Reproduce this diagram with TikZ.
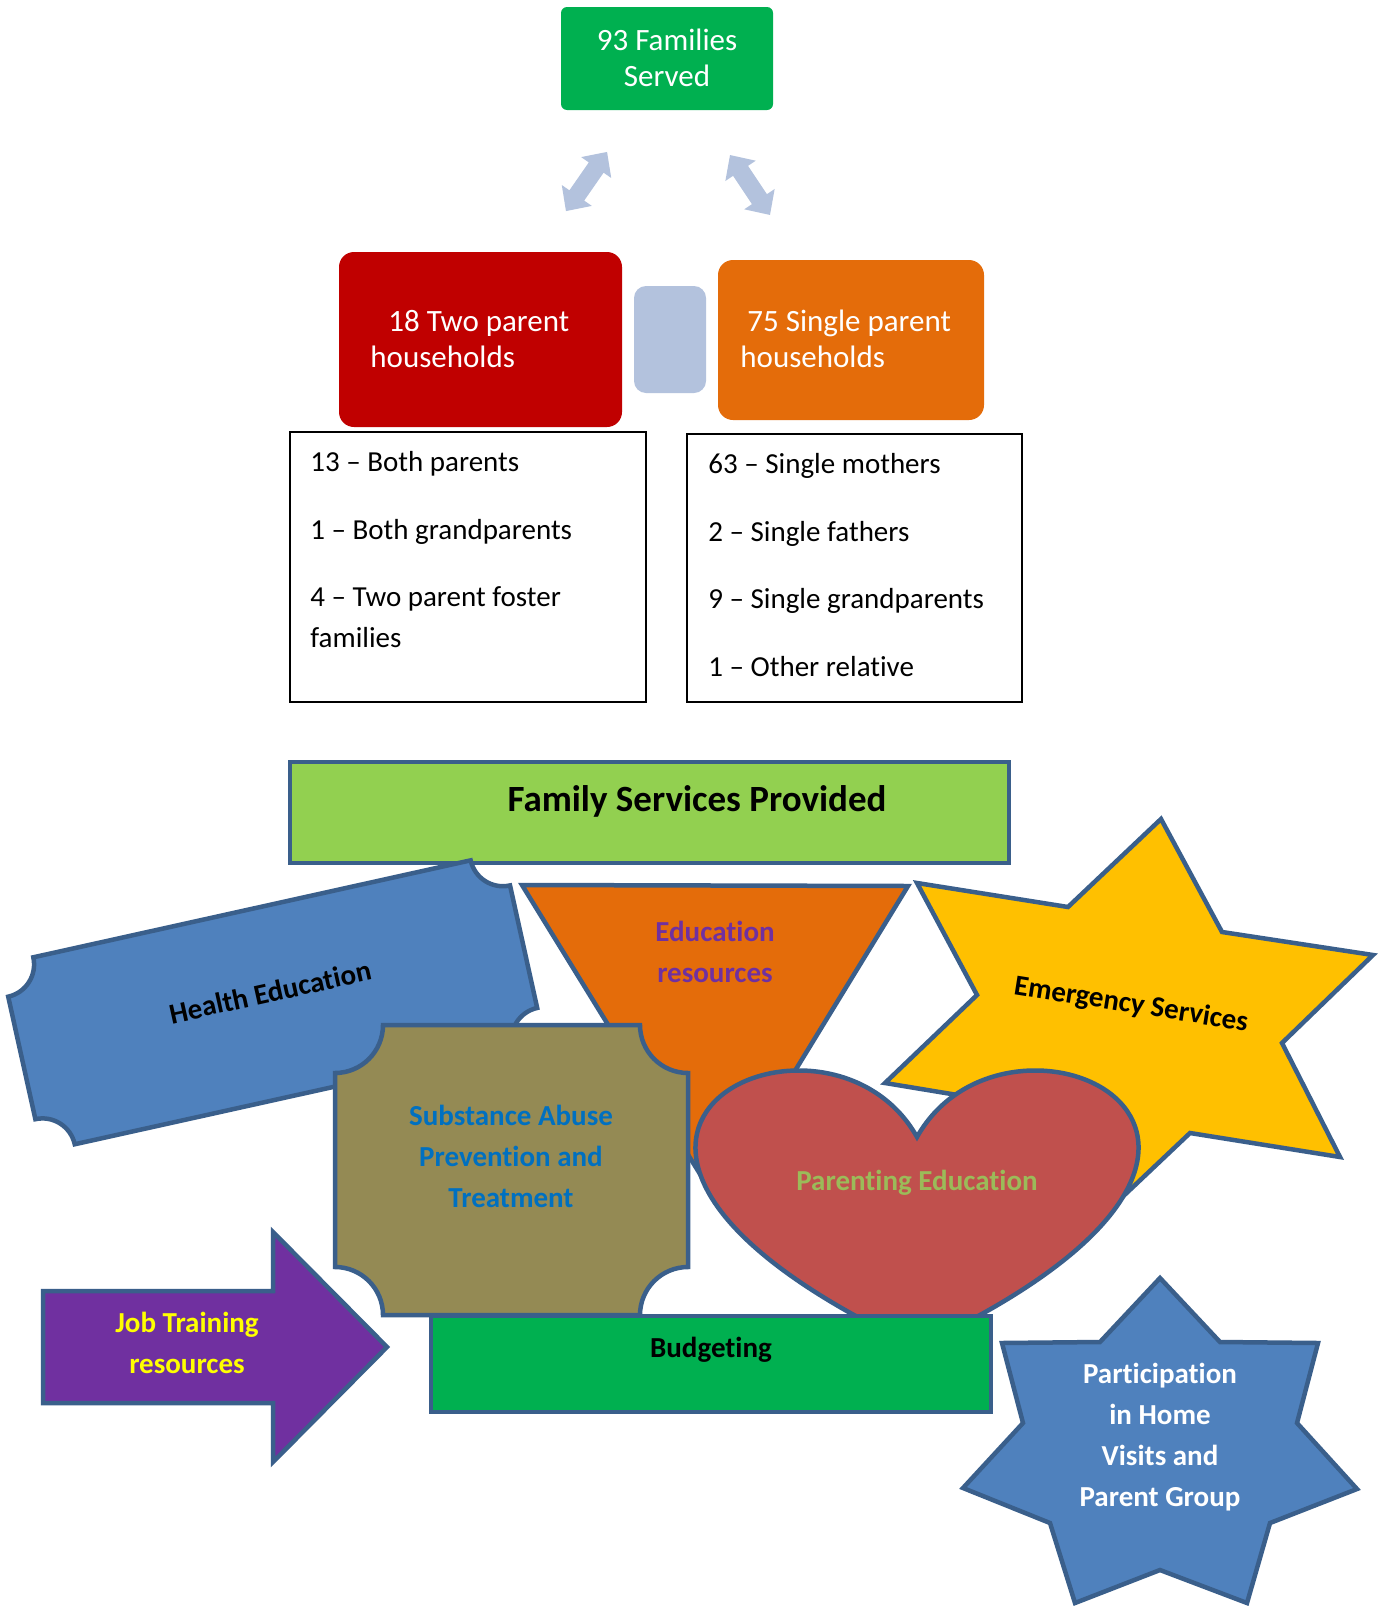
\documentclass[tikz,border=0pt]{standalone}
\usepackage{fontspec}
\setmainfont{Carlito}[Ligatures=NoCommon]
\definecolor{cgreen}{HTML}{00B050}
\definecolor{cred}{HTML}{C00000}
\definecolor{corange}{HTML}{E46C0A}
\definecolor{cconn}{HTML}{B3C2DD}
\definecolor{cfam}{HTML}{92D050}
\definecolor{outl}{HTML}{3A5F8B}
\definecolor{cblue}{HTML}{4F81BD}
\definecolor{colive}{HTML}{948A54}
\definecolor{cstar}{HTML}{FFC000}
\definecolor{cheart}{HTML}{C0504D}
\definecolor{cpurple}{HTML}{7030A0}
\definecolor{ctblue}{HTML}{0070C0}
\definecolor{ctgreen}{HTML}{9BBB59}
\definecolor{cyellow}{HTML}{FFFF00}
\tikzset{
  shapeline/.style={draw=outl, line width=2.25pt},
  lbl/.style={font=\fontsize{14.5pt}{20.5pt}\selectfont\bfseries, align=center, inner sep=0pt},
  toptxt/.style={font=\fontsize{15.5pt}{18pt}\selectfont, text=white, inner sep=0pt},
  listtxt/.style={font=\fontsize{14.5pt}{20.5pt}\selectfont, anchor=west, inner sep=0pt, text height=0.7em, text depth=0.2em},
  blockarrow/.style={fill=cconn},
}
\begin{document}
\begin{tikzpicture}[x=0.5pt,y=-0.5pt]
\path[fill=white,use as bounding box] (0,0) rectangle (1380,1606);

% ---- top part
\path[fill=cgreen, rounded corners=3pt] (561,7) rectangle (773,110);
\node[toptxt, align=center] (fam) at (667,58) {93 Families\\Served};

\begin{scope}[shift={(586.5,181.5)}, rotate=55.2]
  \path[blockarrow] (-36,0) -- (-17,-18.3) -- (-17,-9) -- (17,-9) -- (17,-18.3) -- (36,0) -- (17,18.3) -- (17,9) -- (-17,9) -- (-17,18.3) -- cycle;
\end{scope}
\begin{scope}[shift={(750,185)}, rotate=-56.3]
  \path[blockarrow] (-36,0) -- (-17,-18.3) -- (-17,-9) -- (17,-9) -- (17,-18.3) -- (36,0) -- (17,18.3) -- (17,9) -- (-17,9) -- (-17,18.3) -- cycle;
\end{scope}

\path[fill=cred, rounded corners=7.5pt] (339,252) rectangle (622,427);
\path[fill=cconn, rounded corners=6pt] (634,286) rectangle (706,393);
\path[fill=corange, rounded corners=7.5pt] (718,260) rectangle (984,420);
\node[toptxt, anchor=west, text height=0.7em, text depth=0.2em] (two1) at (388,326) {18 Two parent};
\node[toptxt, anchor=west, text height=0.7em, text depth=0.2em] (two2) at (370,362) {households};
\node[toptxt, anchor=west, text height=0.7em, text depth=0.2em] (sin1) at (747,326) {75 Single parent};
\node[toptxt, anchor=west, text height=0.7em, text depth=0.2em] (sin2) at (740,362) {households};

\draw[line width=1pt] (290,432) rectangle (646,702);
\draw[line width=1pt] (687,434) rectangle (1022,702);
\node[listtxt] (l1) at (310,466) {13 – Both parents};
\node[listtxt] (l2) at (310,534) {1 – Both grandparents};
\node[listtxt] (l3) at (310,601) {4 – Two parent foster};
\node[listtxt] (l4) at (310,642) {families};
\node[listtxt] (r1) at (708,468) {63 – Single mothers};
\node[listtxt] (r2) at (708,536) {2 – Single fathers};
\node[listtxt] (r3) at (708,603) {9 – Single grandparents};
\node[listtxt] (r4) at (708,671) {1 – Other relative};

% ---- services
\draw[shapeline, fill=cfam] (290,762) rectangle (1009,863);
\node[lbl, font=\fontsize{18.5pt}{22pt}\selectfont\bfseries] (fsp) at (697,801) {Family Services Provided};

% Health education plaque
\begin{scope}[shift={(272.7,1002.3)}, rotate=12.5]
  \draw[shapeline, fill=cblue] (-224,-95.75) -- (224,-95.75) .. controls (224,-77.5) and (238.8,-62.75) .. (257,-62.75) -- (257,62.75) .. controls (238.8,62.75) and (224,77.5) .. (224,95.75) -- (-224,95.75) .. controls (-224,77.5) and (-238.8,62.75) .. (-257,62.75) -- (-257,-62.75) .. controls (-238.8,-62.75) and (-224,-77.5) .. (-224,-95.75) -- cycle;
\end{scope}
\node[lbl, rotate=12.5] (health) at (270,992) {Health Education};

% Education triangle
\draw[shapeline, fill=corange] (522,885) -- (908,886) -- (716,1200) -- cycle;
\node[lbl, text=cpurple] (edu) at (715,951.5) {Education\\resources};

% Emergency star
\draw[shapeline, fill=cstar] (1161,819) -- (1068,907) -- (917,883) -- (977,995) -- (885,1083) -- (1036,1108) -- (1097,1221) -- (1190,1133) -- (1340,1157) -- (1282,1043) -- (1373,955) -- (1222,932) -- cycle;
\node[lbl, rotate=-9] (emerg) at (1131,1005) {Emergency Services};

% Substance plaque
\begin{scope}[shift={(511.5,1170)}]
  \draw[shapeline, fill=colive] (-128.5,-145) -- (128.5,-145) .. controls (128.5,-118.5) and (150,-97) .. (176.5,-97) -- (176.5,97) .. controls (150,97) and (128.5,118.5) .. (128.5,145) -- (-128.5,145) .. controls (-128.5,118.5) and (-150,97) .. (-176.5,97) -- (-176.5,-97) .. controls (-150,-97) and (-128.5,-118.5) .. (-128.5,-145) -- cycle;
\end{scope}
\node[lbl, text=ctblue] (subst) at (511,1156) {Substance Abuse\\Prevention and\\Treatment};

% Heart
\draw[shapeline, fill=cheart] (917,1137) .. controls (1008.7,973.7) and (1366,1137) .. (917,1347) .. controls (468,1137) and (825.3,973.7) .. (917,1137) -- cycle;
\node[lbl, text=ctgreen] (parent) at (917,1183) {Parenting Education};

% Budgeting
\draw[shapeline, fill=cgreen] (431,1316) rectangle (991,1412);
\node[lbl] (budget) at (711,1350) {Budgeting};

% Job training arrow
\draw[shapeline, fill=cpurple] (43,1291) -- (273,1291) -- (273,1232) -- (387,1347) -- (273,1462) -- (273,1403) -- (43,1403) -- cycle;
\node[lbl, text=cyellow] (job) at (187,1342.5) {Job Training\\resources};

% Participation star
\draw[shapeline, fill=cblue] (1160,1278) -- (1220,1342) -- (1318,1343) -- (1297,1423) -- (1357,1489) -- (1270,1523) -- (1247,1603) -- (1160,1570) -- (1075,1603) -- (1050,1523) -- (963,1488) -- (1023,1423) -- (1002,1343) -- (1100,1342) -- cycle;
\node[lbl, text=white] (partic) at (1160,1437) {Participation\\in Home\\Visits and\\Parent Group};
\end{tikzpicture}
\end{document}
